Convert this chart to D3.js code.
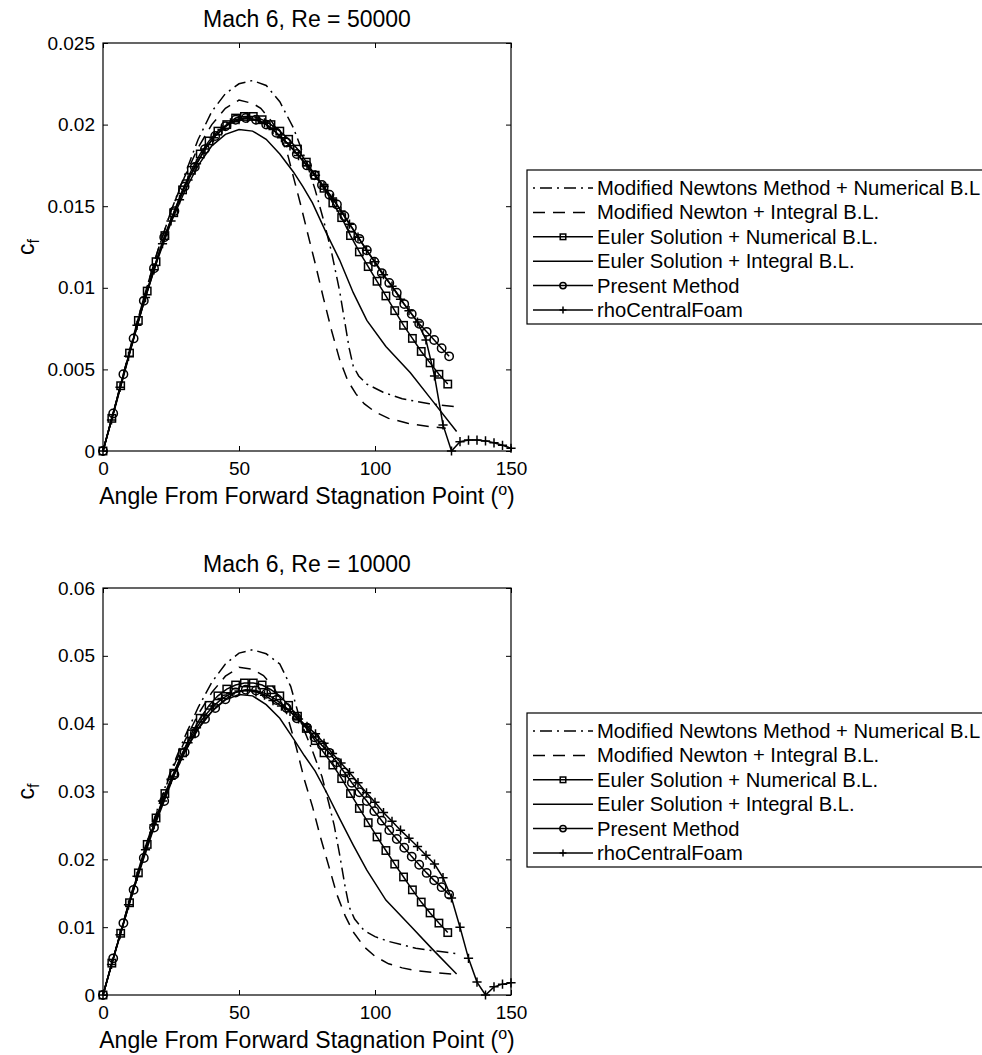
<!DOCTYPE html>
<html>
<head>
<meta charset="utf-8">
<script src="https://cdn.jsdelivr.net/npm/d3@7"></script>
<style>
  body { margin: 0; background: #fff; }
  svg text { font-family: "Liberation Sans", Arial, Helvetica, sans-serif; fill: #000; }
</style>
</head>
<body>
<div id="chart"></div>
<script>
// ---- data ----
const xTicks = [0, 50, 100, 150];
const yTicksRe50k = [0, 0.005, 0.01, 0.015, 0.02, 0.025];
const yLabelsRe50k = ["0", "0.005", "0.01", "0.015", "0.02", "0.025"];
const yTicksRe10k = [0, 0.01, 0.02, 0.03, 0.04, 0.05, 0.06];
const yLabelsRe10k = ["0", "0.01", "0.02", "0.03", "0.04", "0.05", "0.06"];

const legendNames = [
  "Modified Newtons Method + Numerical B.L",
  "Modified Newton + Integral B.L.",
  "Euler Solution + Numerical B.L.",
  "Euler Solution + Integral B.L.",
  "Present Method",
  "rhoCentralFoam"
];

// angles of the marker series
const thetaSquares = [0, 3.25, 6.5, 9.75, 13, 16.25, 19.5, 22.75, 26, 29.25, 32.5, 35.75, 39, 42.25, 45.5, 48.75, 52, 55.25, 58.5, 61.75, 65, 68.25, 71.5, 74.75, 78, 81.25, 84.5, 87.75, 91, 94.25, 97.5, 100.75, 104, 107.25, 110.5, 113.75, 117, 120.25, 123.5, 126.75];
const thetaCircles = [0, 3.75, 7.5, 11.25, 15, 18.75, 22.5, 26.25, 30, 33.75, 37.5, 41.25, 45, 48.75, 52.5, 56.25, 60, 63.75, 67.5, 71.25, 75, 77.75, 80.5, 83.25, 86, 88.75, 91.5, 94.25, 97, 99.75, 102.5, 105.25, 108, 110.75, 113.5, 116.25, 119, 121.75, 124.5, 127.25];
const thetaFoam = [0, 3.125, 6.25, 9.375, 12.5, 15.625, 18.75, 21.875, 25, 28.125, 31.25, 34.375, 37.5, 40.625, 43.75, 46.875, 50, 53.125, 56.25, 59.375, 62.5, 65.625, 68.75, 71.875, 75, 78.125, 81.25, 84.375, 87.5, 90.625, 93.75, 96.875, 100, 103.125, 106.25, 109.375, 112.5, 115.625, 118.75, 121.875, 125, 128.125, 131.25, 134.375, 137.5, 140.625, 143.75, 146.875, 150];

// Re = 50000
const newtonNumTheta50k = [0, 5, 10, 15, 20, 25, 30, 35, 40, 45, 50, 55, 60, 65, 70, 75, 78, 81, 84, 87, 89, 90.5, 92, 94, 97, 103, 110, 120, 130];
const newtonNum50k = [0, 0.0031, 0.0063, 0.0094, 0.0122, 0.0147, 0.0169, 0.0191, 0.0208, 0.0219, 0.0225, 0.0227, 0.0224, 0.0214, 0.0198, 0.0176, 0.0160, 0.0142, 0.0122, 0.0098, 0.0078, 0.0063, 0.0052, 0.0046, 0.0041, 0.0036, 0.0032, 0.0029, 0.0027];
const newtonIntTheta50k = [0, 5, 10, 15, 20, 25, 30, 35, 40, 45, 50, 55, 58, 62, 65, 68, 70, 72.5, 75, 78, 81, 84, 87, 90, 93, 96, 100, 105, 112, 120, 126];
const newtonInt50k = [0, 0.0031, 0.0063, 0.0094, 0.0122, 0.0147, 0.0168, 0.0186, 0.0200, 0.0210, 0.0215, 0.0213, 0.0210, 0.0202, 0.0194, 0.0181, 0.0168, 0.0152, 0.0135, 0.0115, 0.0094, 0.0074, 0.0056, 0.0043, 0.0035, 0.0029, 0.0024, 0.0020, 0.0017, 0.0015, 0.0014];
const eulerNum50k = [0, 0.0020, 0.0040, 0.0060, 0.0080, 0.0098, 0.0116, 0.0132, 0.0146, 0.0160, 0.0172, 0.0182, 0.0190, 0.0196, 0.0200, 0.0204, 0.0205, 0.0205, 0.0203, 0.0200, 0.0196, 0.0191, 0.0185, 0.0177, 0.0169, 0.0161, 0.0152, 0.0143, 0.0132, 0.0122, 0.0113, 0.0104, 0.0095, 0.0086, 0.0077, 0.0069, 0.0061, 0.0054, 0.0047, 0.0041];
const eulerIntTheta50k = [0, 5, 10, 15, 20, 25, 30, 35, 40, 45, 50, 55, 60, 65, 70, 73.5, 77, 82, 87, 92, 97, 104, 113, 121, 130];
const eulerInt50k = [0, 0.0030, 0.0061, 0.0091, 0.0117, 0.0140, 0.0159, 0.0175, 0.0187, 0.0194, 0.0197, 0.0196, 0.0191, 0.0182, 0.0171, 0.0162, 0.0152, 0.0134, 0.0117, 0.0097, 0.0080, 0.0064, 0.0048, 0.0031, 0.0012];
const present50k = [0, 0.0023, 0.0047, 0.0069, 0.0092, 0.0112, 0.0131, 0.0147, 0.0162, 0.0174, 0.0185, 0.0193, 0.0199, 0.0203, 0.0204, 0.0203, 0.0200, 0.0195, 0.0189, 0.0182, 0.0175, 0.0169, 0.0163, 0.0157, 0.0151, 0.0144, 0.0137, 0.0130, 0.0123, 0.0116, 0.0109, 0.0103, 0.0097, 0.0090, 0.0084, 0.0078, 0.0073, 0.0068, 0.0063, 0.0058];
const foam50k = [0, 0.0019, 0.0039, 0.0058, 0.0077, 0.0094, 0.0111, 0.0127, 0.0141, 0.0154, 0.0166, 0.0176, 0.0185, 0.0192, 0.0197, 0.0201, 0.0203, 0.0204, 0.0203, 0.0201, 0.0197, 0.0192, 0.0187, 0.0181, 0.0175, 0.0169, 0.0162, 0.0155, 0.0147, 0.0139, 0.0131, 0.0123, 0.0116, 0.0108, 0.0101, 0.0093, 0.0086, 0.0079, 0.0068, 0.0046, 0.0016, 0.0000, 0.00057, 0.00067, 0.00067, 0.00062, 0.00050, 0.00035, 0.00017];

// Re = 10000
const newtonNumTheta10k = [0, 5, 10, 15, 20, 25, 30, 35, 40, 45, 50, 55, 60, 65, 69, 72.5, 77, 80.5, 83, 85, 87, 89, 90.5, 92.5, 96, 100, 105, 110, 115, 122, 130];
const newtonNum10k = [0, 0.0072, 0.0143, 0.0211, 0.0274, 0.0331, 0.0380, 0.0424, 0.0461, 0.0488, 0.0504, 0.0509, 0.0503, 0.0488, 0.0455, 0.0405, 0.0360, 0.0322, 0.0283, 0.0250, 0.0207, 0.0160, 0.0130, 0.0112, 0.0095, 0.0086, 0.0079, 0.0074, 0.0069, 0.0065, 0.0061];
const newtonIntTheta10k = [0, 5, 10, 15, 20, 25, 30, 35, 40, 45, 50, 55, 59, 63, 67.5, 71, 74, 77, 80, 83, 86, 89, 92, 96, 100, 105, 110, 115, 122, 128];
const newtonInt10k = [0, 0.0072, 0.0143, 0.0211, 0.0272, 0.0328, 0.0374, 0.0414, 0.0446, 0.0470, 0.0483, 0.0480, 0.0471, 0.0452, 0.0415, 0.0366, 0.0318, 0.0278, 0.0232, 0.0190, 0.0148, 0.0117, 0.0093, 0.0071, 0.0057, 0.0046, 0.0040, 0.0036, 0.0033, 0.0031];
const eulerNum10k = [0, 0.0047, 0.0091, 0.0136, 0.0180, 0.0222, 0.0261, 0.0297, 0.0327, 0.0357, 0.0385, 0.0408, 0.0427, 0.0441, 0.0451, 0.0457, 0.0460, 0.0460, 0.0457, 0.0450, 0.0441, 0.0427, 0.0411, 0.0393, 0.0375, 0.0357, 0.0339, 0.0319, 0.0297, 0.0275, 0.0254, 0.0233, 0.0213, 0.0193, 0.0174, 0.0155, 0.0137, 0.0121, 0.0106, 0.0092];
const eulerIntTheta10k = [0, 5, 10, 15, 20, 25, 30, 35, 40, 45, 50, 55, 60, 65, 70, 74, 78, 82, 87, 92, 97, 104, 113, 121, 130];
const eulerInt10k = [0, 0.0070, 0.0139, 0.0205, 0.0264, 0.0315, 0.0358, 0.0392, 0.0418, 0.0435, 0.0443, 0.0441, 0.0428, 0.0408, 0.0378, 0.0353, 0.0330, 0.0300, 0.0260, 0.0221, 0.0184, 0.0140, 0.0102, 0.0068, 0.0031];
const present10k = [0, 0.0054, 0.0106, 0.0155, 0.0202, 0.0247, 0.0286, 0.0325, 0.0358, 0.0386, 0.0407, 0.0423, 0.0436, 0.0446, 0.0450, 0.0449, 0.0444, 0.0435, 0.0423, 0.0408, 0.0394, 0.0380, 0.0368, 0.0357, 0.0343, 0.0328, 0.0313, 0.0299, 0.0286, 0.0271, 0.0257, 0.0243, 0.0230, 0.0217, 0.0204, 0.0192, 0.0180, 0.0169, 0.0159, 0.0148];
const foam10k = [0, 0.0045, 0.0089, 0.0133, 0.0175, 0.0214, 0.0251, 0.0286, 0.0318, 0.0347, 0.0372, 0.0394, 0.0412, 0.0426, 0.0437, 0.0444, 0.0448, 0.0449, 0.0447, 0.0442, 0.0434, 0.0426, 0.0418, 0.0407, 0.0396, 0.0385, 0.0371, 0.0356, 0.0342, 0.0328, 0.0313, 0.0298, 0.0284, 0.0269, 0.0256, 0.0243, 0.0231, 0.0219, 0.0206, 0.0193, 0.0173, 0.0143, 0.0100, 0.0054, 0.0019, 0.0000, 0.0012, 0.0016, 0.0018];

// ---- layout ----
const width = 982;
const height = 1055;
const plotLeft = 103;
const plotRight = 511;

const styles = [
  { dash: "2,5,12,5", marker: null },
  { dash: "12,8", marker: null },
  { dash: null, marker: "square" },
  { dash: null, marker: null },
  { dash: null, marker: "circle" },
  { dash: null, marker: "plus" }
];

const panels = [
  {
    title: "Mach 6, Re = 50000", top: 43, bottom: 451, yMax: 0.025,
    yTicks: yTicksRe50k, yLabels: yLabelsRe50k, legendTop: 170,
    series: [
      [newtonNumTheta50k, newtonNum50k], [newtonIntTheta50k, newtonInt50k],
      [thetaSquares, eulerNum50k], [eulerIntTheta50k, eulerInt50k],
      [thetaCircles, present50k], [thetaFoam, foam50k]
    ]
  },
  {
    title: "Mach 6, Re = 10000", top: 588, bottom: 995, yMax: 0.06,
    yTicks: yTicksRe10k, yLabels: yLabelsRe10k, legendTop: 713,
    series: [
      [newtonNumTheta10k, newtonNum10k], [newtonIntTheta10k, newtonInt10k],
      [thetaSquares, eulerNum10k], [eulerIntTheta10k, eulerInt10k],
      [thetaCircles, present10k], [thetaFoam, foam10k]
    ]
  }
];

const svg = d3.select("#chart")
  .append("svg")
  .attr("width", width)
  .attr("height", height);

function drawMarker(sel, type, cx, cy, s) {
  if (type === "square") {
    sel.append("rect")
      .attr("x", cx - 3.7 * s).attr("y", cy - 3.7 * s)
      .attr("width", 7.4 * s).attr("height", 7.4 * s)
      .attr("fill", "none").attr("stroke", "#000").attr("stroke-width", 1.5);
  } else if (type === "circle") {
    sel.append("circle")
      .attr("cx", cx).attr("cy", cy).attr("r", 4.2 * s)
      .attr("fill", "none").attr("stroke", "#000").attr("stroke-width", 1.5);
  } else if (type === "plus") {
    const h = 4.6 * s;
    sel.append("path")
      .attr("d", `M${cx - h},${cy}H${cx + h}M${cx},${cy - h}V${cy + h}`)
      .attr("stroke", "#000").attr("stroke-width", 1.5);
  }
}

panels.forEach(p => {
  const x = d3.scaleLinear().domain([0, 150]).range([plotLeft, plotRight]);
  const y = d3.scaleLinear().domain([0, p.yMax]).range([p.bottom, p.top]);
  const g = svg.append("g");

  // axes (ticks point inwards, box all round)
  const styleAxis = a => {
    a.select(".domain").remove();
    a.attr("font-size", 19).attr("font-family", "Liberation Sans, Arial, sans-serif");
    a.selectAll("line").attr("stroke", "#000");
  };
  g.append("g")
    .attr("transform", `translate(0,${p.bottom})`)
    .call(d3.axisBottom(x).tickValues(xTicks).tickSize(-5).tickSizeOuter(0).tickPadding(10.5))
    .call(styleAxis);
  g.append("g")
    .attr("transform", `translate(0,${p.top})`)
    .call(d3.axisTop(x).tickValues(xTicks).tickSize(-5).tickSizeOuter(0).tickFormat(""))
    .call(styleAxis);
  g.append("g")
    .attr("transform", `translate(${plotLeft},0)`)
    .call(d3.axisLeft(y).tickValues(p.yTicks).tickSize(-5).tickSizeOuter(0).tickPadding(8)
      .tickFormat((d, i) => p.yLabels[i]))
    .call(styleAxis);
  g.append("g")
    .attr("transform", `translate(${plotRight},0)`)
    .call(d3.axisRight(y).tickValues(p.yTicks).tickSize(-5).tickSizeOuter(0).tickFormat(""))
    .call(styleAxis);

  g.append("rect")
    .attr("x", plotLeft).attr("y", p.top)
    .attr("width", plotRight - plotLeft).attr("height", p.bottom - p.top)
    .attr("fill", "none").attr("stroke", "#000").attr("stroke-width", 1.2);

  // curves
  const line = d3.line().x(d => x(d[0])).y(d => y(d[1]));
  p.series.forEach((s, k) => {
    const pts = s[0].map((t, i) => [t, s[1][i]]);
    g.append("path")
      .datum(pts)
      .attr("fill", "none")
      .attr("stroke", "#000")
      .attr("stroke-width", 1.5)
      .attr("stroke-dasharray", styles[k].dash)
      .attr("d", line);
    if (styles[k].marker) {
      const mg = g.append("g");
      pts.forEach(d => drawMarker(mg, styles[k].marker, x(d[0]), y(d[1]), 1));
    }
  });

  // title
  g.append("text")
    .attr("x", (plotLeft + plotRight) / 2)
    .attr("y", p.top - 16)
    .attr("text-anchor", "middle")
    .attr("font-size", 23)
    .text(p.title);

  // x label with superscript degree "o"
  const xl = g.append("text")
    .attr("x", (plotLeft + plotRight) / 2)
    .attr("y", p.bottom + 53)
    .attr("text-anchor", "middle")
    .attr("font-size", 23);
  xl.append("tspan").text("Angle From Forward Stagnation Point (");
  xl.append("tspan").attr("dy", -9).attr("font-size", 16).text("o");
  xl.append("tspan").attr("dy", 9).text(")");

  // y label c_f
  const yl = g.append("text")
    .attr("transform", `translate(34,${(p.top + p.bottom) / 2}) rotate(-90)`)
    .attr("text-anchor", "middle")
    .attr("font-size", 23);
  yl.append("tspan").text("c");
  yl.append("tspan").attr("dy", 5).attr("font-size", 16).text("f");

  // legend
  const lx = 527, rowH = 24.4;
  const lg = g.append("g");
  lg.append("rect")
    .attr("x", lx).attr("y", p.legendTop)
    .attr("width", 520).attr("height", 154)
    .attr("fill", "#fff").attr("stroke", "#000").attr("stroke-width", 1.2);
  legendNames.forEach((name, k) => {
    const cy = p.legendTop + 18 + k * rowH;
    lg.append("line")
      .attr("x1", lx + 6).attr("x2", lx + 66)
      .attr("y1", cy).attr("y2", cy)
      .attr("stroke", "#000").attr("stroke-width", 1.5)
      .attr("stroke-dasharray", styles[k].dash);
    if (styles[k].marker) drawMarker(lg, styles[k].marker, lx + 36, cy, 0.75);
    lg.append("text")
      .attr("x", lx + 70).attr("y", cy + 7)
      .attr("font-size", 20.2)
      .text(name);
  });
});
</script>
</body>
</html>
